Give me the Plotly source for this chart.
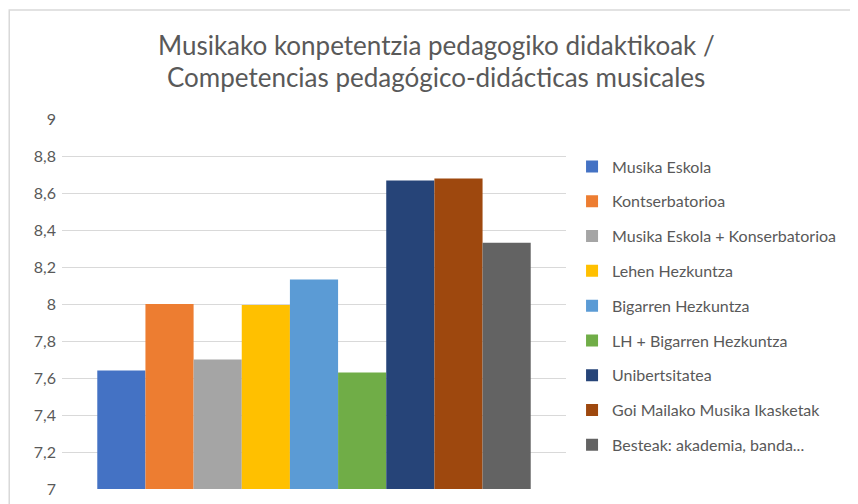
import plotly.graph_objects as go

categories = ["Musika Eskola", "Kontserbatorioa", "Musika Eskola + Konserbatorioa",
              "Lehen Hezkuntza", "Bigarren Hezkuntza", "LH + Bigarren Hezkuntza",
              "Unibertsitatea", "Goi Mailako Musika Ikasketak", "Besteak: akademia, banda..."]
values = [7.64, 8.00, 7.70, 7.995, 8.133, 7.63, 8.667, 8.678, 8.331]
colors = ["#4472C4", "#ED7D31", "#A5A5A5", "#FFC000", "#5B9BD5",
          "#70AD47", "#264478", "#9E480E", "#636363"]
y_ticks = [7, 7.2, 7.4, 7.6, 7.8, 8, 8.2, 8.4, 8.6, 8.8, 9]
title_lines = ["Musikako konpetentzia pedagogiko didaktikoak /",
               "Competencias pedagógico-didácticas musicales"]

fig = go.Figure()
for name, v, c in zip(categories, values, colors):
    fig.add_trace(go.Bar(x=[""], y=[v], name=name, marker_color=c,
                         marker_line_width=0, legendgroup=name))

font = "Lato, Calibri, sans-serif"
PW, PH = 504.4, 369.7
fig.update_layout(
    width=850, height=496,
    paper_bgcolor="white", plot_bgcolor="white",
    margin=dict(l=54, r=850 - 54 - PW, t=111, b=496 - 111 - PH, autoexpand=False),
    barmode="group", bargap=0.14, bargroupgap=0,
    separators=",.",
    font=dict(family=font, color="#595959", size=16),
    legend=dict(x=1.012, xanchor="left", y=0.9175, yanchor="top",
                traceorder="grouped", tracegroupgap=11,
                font=dict(family=font, size=16, color="#595959"),
                itemwidth=30, bgcolor="rgba(0,0,0,0)"),
    xaxis=dict(showticklabels=False, showgrid=False, zeroline=False, showline=False,
               automargin=False),
    yaxis=dict(range=[7, 9], tickvals=y_ticks, showgrid=True, gridcolor="#d9d9d9",
               gridwidth=1, zeroline=False, showline=False, ticks="", automargin=False,
               ticklabelstandoff=5, tickfont=dict(size=16, color="#595959")),
    shapes=[dict(type="rect", xref="paper", yref="paper",
                 x0=(9.5 - 62.3) / PW, x1=2.0, y0=-1.0, y1=(488.7 - 10) / PH,
                 line=dict(color="#d9d9d9", width=1.5), fillcolor="rgba(0,0,0,0)",
                 layer="above")],
    annotations=[
        dict(text=title_lines[0], xref="paper", yref="paper",
             x=(437 - 62.3) / PW, y=(488.7 - 45) / PH, xanchor="center", yanchor="middle",
             showarrow=False, font=dict(family=font, size=26, color="#595959")),
        dict(text=title_lines[1], xref="paper", yref="paper",
             x=(437 - 62.3) / PW, y=(488.7 - 77) / PH, xanchor="center", yanchor="middle",
             showarrow=False, font=dict(family=font, size=26, color="#595959")),
    ],
)
fig.write_html("out.html")
